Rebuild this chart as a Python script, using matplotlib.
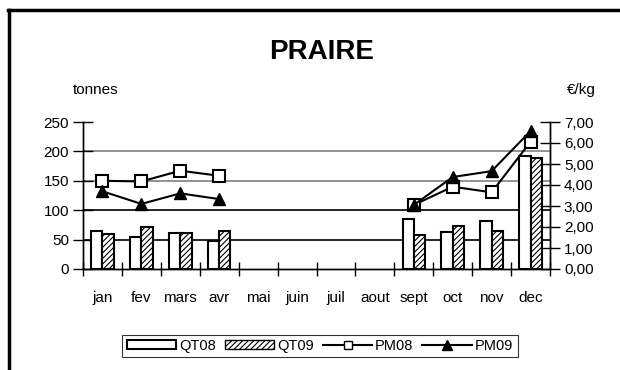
#!/usr/bin/env python3

import matplotlib
matplotlib.use("Agg")
import matplotlib.pyplot as plt
import numpy as np
from matplotlib.lines import Line2D
from matplotlib.patches import Patch

plt.rcParams['font.family'] = ['Liberation Sans', 'DejaVu Sans']
plt.rcParams['hatch.color'] = '#555555'
plt.rcParams['hatch.linewidth'] = 0.8

# Data
months = ["jan", "fev", "mars", "avr", "mai", "juin", "juil", "aout", "sept", "oct", "nov", "dec"]
qt08 = [65, 55, 62, 47, np.nan, np.nan, np.nan, np.nan, 85, 63, 82, 192]
qt09 = [60, 71, 62, 65, np.nan, np.nan, np.nan, np.nan, 58, 73, 65, 189]
pm08 = [4.20, 4.17, 4.68, 4.44, np.nan, np.nan, np.nan, np.nan, 3.05, 3.92, 3.65, 6.06]
pm09 = [3.70, 3.10, 3.60, 3.33, np.nan, np.nan, np.nan, np.nan, 3.05, 4.38, 4.66, 6.57]

x = np.arange(len(months))
bw = 0.29

fig = plt.figure(figsize=(6.2, 3.7), dpi=100)
ax = fig.add_axes([83/620, 1-269/370, (550-83)/620, (269-122)/370])
ax2 = ax.twinx()

# horizontal lines (gridlines)
for v, c in [(50, 'black'), (100, 'black'), (150, '#808080'), (200, '#808080')]:
    ax.axhline(v, color=c, lw=1.2, zorder=0)

ax.bar(x - bw/2, qt08, bw, color='white', edgecolor='black', lw=1.5, zorder=2)
ax.bar(x + bw/2, qt09, bw, color='white', edgecolor='black', lw=1.5, hatch='//////', zorder=2)

ax2.plot(x, pm08, color='black', lw=1.5, marker='s', ms=8, mfc='white', mec='black', mew=1.5)
ax2.plot(x, pm09, color='black', lw=1.5, marker='^', ms=9, mfc='black', mec='black')

ax.set_xlim(-0.5, 11.5)
ax.set_ylim(0, 250)
ax2.set_ylim(0, 7)
ax.set_yticks([0, 50, 100, 150, 200, 250])
ax2.set_yticks(np.arange(0, 8))
ax2.set_yticklabels([f"{v:.2f}".replace('.', ',') for v in range(8)])
ax.set_xticks(x)
ax.set_xticklabels(months)
ax.set_xticks(np.arange(-0.5, 12, 1), minor=True)
ax.tick_params(axis='x', which='major', length=0, pad=16, labelsize=11)
ax.tick_params(axis='x', which='minor', length=10, direction='inout', width=1)
ax.tick_params(axis='y', length=14, direction='inout', width=1, labelsize=11, pad=3)
ax2.tick_params(axis='y', length=14, direction='inout', width=1, labelsize=11, pad=3)

for a in (ax, ax2):
    a.spines['top'].set_visible(False)
    a.spines['left'].set_linewidth(1)
    a.spines['right'].set_linewidth(1)
    a.spines['bottom'].set_linewidth(1)
ax.set_zorder(ax2.get_zorder() - 1)
ax2.patch.set_visible(False)

fig.text(322/620, 1-52/370, "PRAIRE", ha='center', va='center', fontsize=20, fontweight='bold')
fig.text(96/620, 1-90/370, "tonnes", ha='center', va='center', fontsize=11)
fig.text(581/620, 1-90/370, "€/kg", ha='center', va='center', fontsize=11)

handles = [
    Patch(facecolor='white', edgecolor='black', lw=1.5),
    Patch(facecolor='white', edgecolor='black', lw=1.0, hatch='//////'),
    Line2D([], [], color='black', lw=1.5, marker='s', ms=6, mfc='white', mec='black'),
    Line2D([], [], color='black', lw=1.5, marker='^', ms=7, mfc='black'),
]
leg = fig.legend(handles, ["QT08", "QT09", "PM08", "PM09"], loc='center',
                 bbox_to_anchor=(320/620, 1-346/370), ncol=4, frameon=True,
                 fancybox=False, edgecolor='black', fontsize=10.5,
                 handlelength=3.4, handleheight=0.6, handletextpad=0.2,
                 columnspacing=0.6, borderpad=0.3)
leg.get_frame().set_linewidth(0.8)

# outer frame (top and left edges visible)
fig.add_artist(Line2D([9/620, 9/620], [0, 1-10/370], color='black', lw=2.5, transform=fig.transFigure))
fig.add_artist(Line2D([8/620, 1], [1-10/370, 1-10/370], color='black', lw=2.5, transform=fig.transFigure))

fig.savefig("out.png", dpi=100)
